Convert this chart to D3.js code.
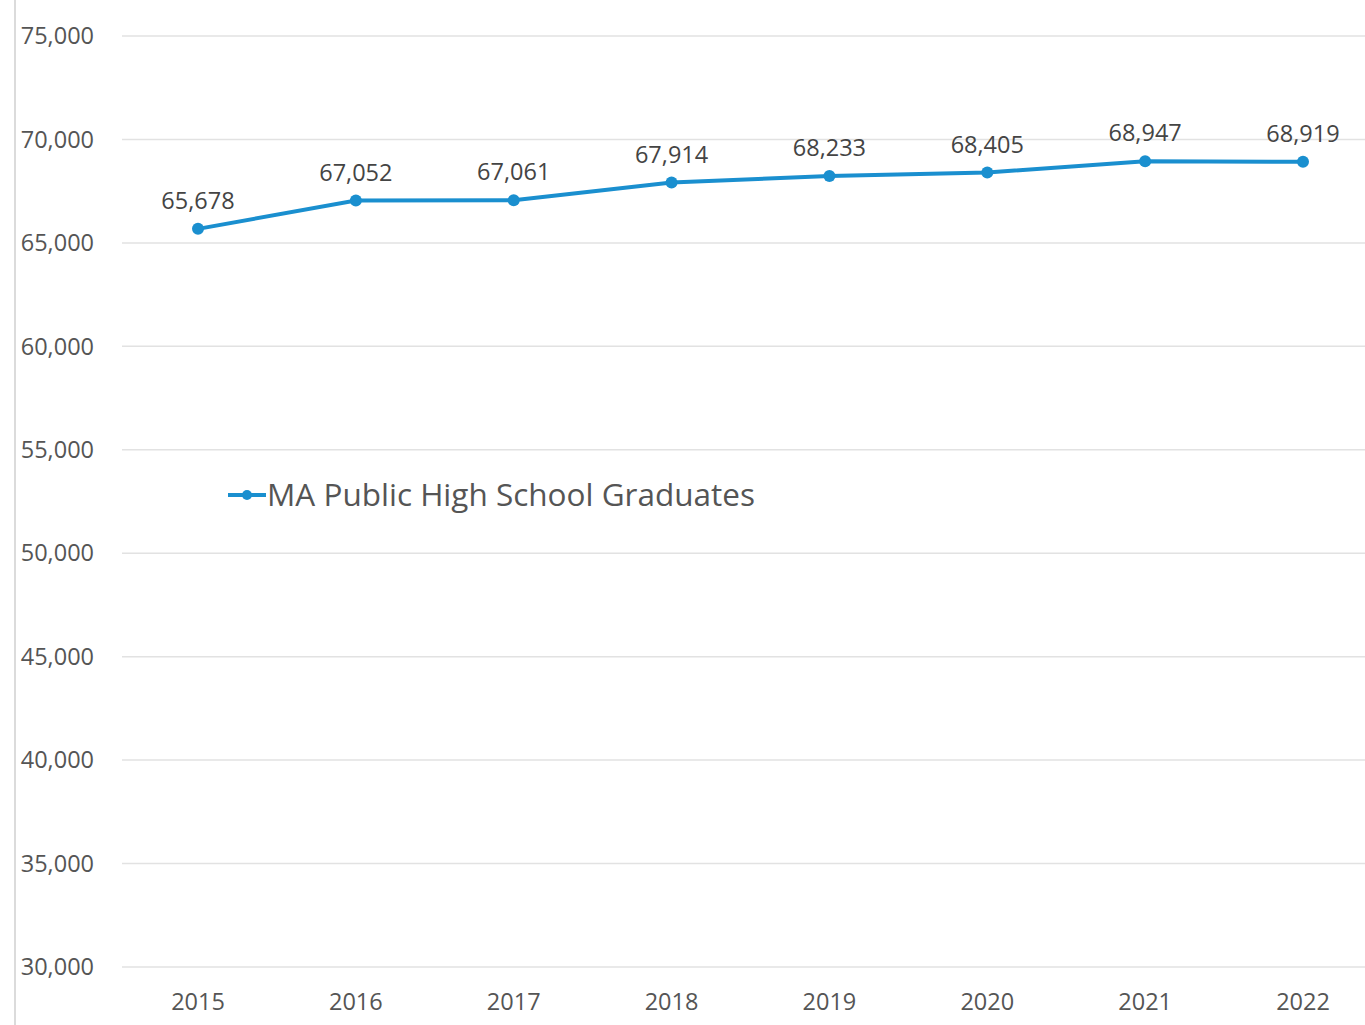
<!DOCTYPE html>
<html><head><meta charset="utf-8">
<script src="https://cdn.jsdelivr.net/npm/d3@7"></script>
<style>body{margin:0;background:#fff;}svg{display:block;font-family:"Open Sans",sans-serif;}</style>
</head><body>
<svg id="c" width="1365" height="1025"></svg>
<script>
const years = ["2015","2016","2017","2018","2019","2020","2021","2022"];
const graduates = [65678,67052,67061,67914,68233,68405,68947,68919];
const yTicks = [30000,35000,40000,45000,50000,55000,60000,65000,70000,75000];
const seriesName = "MA Public High School Graduates";

const svg = d3.select("#c");
const color = "#1a8fcf";
const x = d3.scalePoint().domain(years).range([198,1303]);
const y = d3.scaleLinear().domain([30000,75000]).range([967,36]);

svg.append("line").attr("x1",15).attr("x2",15).attr("y1",0).attr("y2",1025).attr("stroke","#cfcfcf").attr("stroke-width",1.5);

const g = svg.append("g");
g.selectAll("line.grid").data(yTicks).join("line").attr("class","grid")
  .attr("x1",122).attr("x2",1365).attr("y1",d=>y(d)).attr("y2",d=>y(d))
  .attr("stroke","#e2e2e2").attr("stroke-width",1.5);
g.selectAll("text.yl").data(yTicks).join("text").attr("class","yl")
  .attr("x",94).attr("y",d=>y(d)).attr("dy","0.35em").attr("text-anchor","end")
  .attr("font-size",23.5).attr("fill","#555").text(d=>d3.format(",")(d));
g.selectAll("text.xl").data(years).join("text").attr("class","xl")
  .attr("x",d=>x(d)).attr("y",1002).attr("dy","0.35em").attr("text-anchor","middle")
  .attr("font-size",23.5).attr("fill","#555").text(d=>d);

const data = years.map((yr,i)=>({yr,v:graduates[i]}));
svg.append("path").datum(data).attr("fill","none").attr("stroke",color).attr("stroke-width",4)
  .attr("d",d3.line().x(d=>x(d.yr)).y(d=>y(d.v)));
svg.selectAll("circle.pt").data(data).join("circle").attr("class","pt")
  .attr("cx",d=>x(d.yr)).attr("cy",d=>y(d.v)).attr("r",6).attr("fill",color);
svg.selectAll("text.dl").data(data).join("text").attr("class","dl")
  .attr("x",d=>x(d.yr)).attr("y",d=>y(d.v)-28).attr("dy","0.35em").attr("text-anchor","middle")
  .attr("font-size",23.5).attr("fill","#444").text(d=>d3.format(",")(d.v));

const lg = svg.append("g").attr("transform","translate(228,495)");
lg.append("line").attr("x1",0).attr("x2",38).attr("y1",0).attr("y2",0).attr("stroke",color).attr("stroke-width",4);
lg.append("circle").attr("cx",19).attr("cy",0).attr("r",5).attr("fill",color);
lg.append("text").attr("x",39).attr("y",0).attr("dy","0.35em").attr("font-size",31.5).attr("fill","#555").text(seriesName);
</script>
</body></html>
